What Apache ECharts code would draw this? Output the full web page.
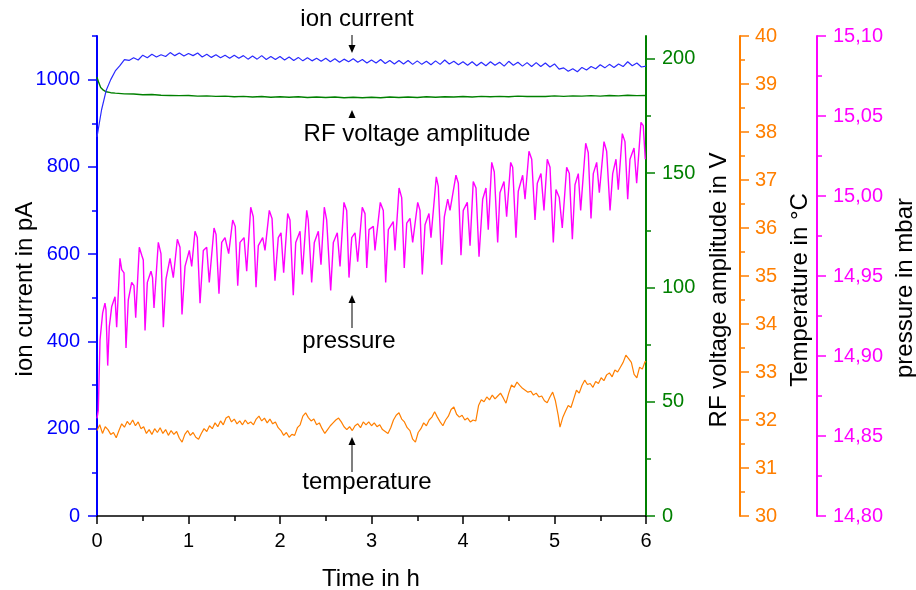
<!DOCTYPE html>
<html>
<head>
<meta charset="utf-8">
<script src="https://cdn.jsdelivr.net/npm/echarts@6/dist/echarts.min.js"></script>
<style>
  html, body { margin: 0; padding: 0; background: #fff; }
  #chart { width: 916px; height: 590px; }
</style>
</head>
<body>
<div id="chart"></div>
<script>
// time in h
const ionCurrent = [
  [0,869],[0.05,931],[0.1,975],[0.15,1000],[0.2,1020],[0.25,1032],[0.3,1046],[0.35,1044],[0.4,1050],[0.45,1045],
  [0.5,1056],[0.55,1050],[0.6,1058],[0.65,1052],[0.7,1057],[0.75,1053],[0.8,1062],[0.85,1055],[0.9,1061],[0.95,1054],
  [1.0,1060],[1.05,1055],[1.1,1061],[1.15,1052],[1.2,1058],[1.25,1051],[1.3,1057],[1.35,1050],[1.4,1056],[1.45,1049],
  [1.5,1056],[1.55,1049],[1.6,1055],[1.65,1047],[1.7,1054],[1.75,1047],[1.8,1055],[1.85,1046],[1.9,1053],[1.95,1046],
  [2.0,1053],[2.05,1045],[2.1,1052],[2.15,1044],[2.2,1051],[2.25,1043],[2.3,1050],[2.35,1043],[2.4,1049],[2.45,1042],
  [2.5,1049],[2.55,1041],[2.6,1048],[2.65,1040],[2.7,1047],[2.75,1041],[2.8,1048],[2.85,1040],[2.9,1046],[2.95,1038],
  [3.0,1045],[3.05,1038],[3.1,1046],[3.15,1037],[3.2,1044],[3.25,1036],[3.3,1044],[3.35,1036],[3.4,1044],[3.45,1035],
  [3.5,1043],[3.55,1035],[3.6,1042],[3.65,1034],[3.7,1043],[3.75,1035],[3.8,1045],[3.85,1036],[3.9,1042],[3.95,1034],
  [4.0,1041],[4.05,1033],[4.1,1041],[4.15,1032],[4.2,1040],[4.25,1032],[4.3,1041],[4.35,1033],[4.4,1040],[4.45,1031],
  [4.5,1042],[4.55,1033],[4.6,1040],[4.65,1031],[4.7,1039],[4.75,1030],[4.8,1039],[4.85,1030],[4.9,1038],[4.95,1029],
  [5.0,1036],[5.05,1024],[5.1,1027],[5.15,1019],[5.2,1025],[5.25,1018],[5.3,1028],[5.35,1022],[5.4,1030],[5.45,1025],
  [5.5,1034],[5.55,1027],[5.6,1035],[5.65,1028],[5.7,1036],[5.75,1030],[5.8,1041],[5.85,1032],[5.9,1038],[5.95,1029],[6.0,1031]
]

const rfVoltage = [
  [0,192],[0.02,189.5],[0.04,187.5],[0.07,186.3],[0.1,185.6],[0.15,185.2],[0.2,185.0],[0.3,184.7],[0.4,184.6],[0.5,184.3],
  [0.6,184.4],[0.7,184.1],[0.8,184.0],[0.9,183.9],[1.0,184.0],[1.1,183.7],[1.2,183.8],[1.3,183.6],[1.4,183.7],[1.5,183.4],
  [1.6,183.6],[1.7,183.3],[1.8,183.5],[1.9,183.2],[2.0,183.4],[2.1,183.2],[2.2,183.4],[2.3,183.1],[2.4,183.3],[2.5,183.1],
  [2.6,183.3],[2.7,183.0],[2.8,183.2],[2.9,183.0],[3.0,183.2],[3.1,183.0],[3.2,183.3],[3.3,183.1],[3.4,183.3],[3.5,183.1],
  [3.6,183.4],[3.7,183.2],[3.8,183.4],[3.9,183.3],[4.0,183.5],[4.1,183.3],[4.2,183.6],[4.3,183.4],[4.4,183.6],[4.5,183.4],
  [4.6,183.7],[4.7,183.5],[4.8,183.6],[4.9,183.5],[5.0,183.8],[5.1,183.6],[5.2,183.8],[5.3,183.7],[5.4,183.9],[5.5,183.7],
  [5.6,184.0],[5.7,183.8],[5.8,184.1],[5.9,183.9],[6.0,184.0]
]

const temperature = [
  [0,31.78],[0.03,31.9],[0.06,31.72],[0.09,31.86],[0.12,31.8],[0.15,31.7],[0.18,31.74],[0.21,31.63],[0.24,31.78],[0.27,31.92],
  [0.3,31.85],[0.33,31.97],[0.36,31.9],[0.39,32.0],[0.42,31.88],[0.45,31.96],[0.48,31.82],[0.51,31.86],[0.54,31.72],[0.57,31.8],
  [0.6,31.7],[0.63,31.82],[0.66,31.74],[0.69,31.84],[0.72,31.72],[0.75,31.8],[0.78,31.68],[0.81,31.78],[0.84,31.7],[0.87,31.76],
  [0.9,31.62],[0.93,31.54],[0.96,31.7],[0.99,31.78],[1.02,31.68],[1.05,31.74],[1.08,31.64],[1.11,31.6],[1.14,31.72],[1.17,31.82],
  [1.2,31.76],[1.23,31.88],[1.26,31.82],[1.29,31.94],[1.32,31.86],[1.35,31.98],[1.38,31.9],[1.41,32.04],[1.44,32.08],[1.47,31.96],
  [1.5,32.02],[1.53,31.92],[1.56,31.98],[1.59,31.9],[1.62,32.0],[1.65,31.92],[1.68,31.96],[1.71,31.9],[1.74,32.02],[1.77,32.08],
  [1.8,31.98],[1.83,32.04],[1.86,31.94],[1.89,32.02],[1.92,31.92],[1.95,31.96],[1.98,31.84],[2.01,31.78],[2.04,31.68],[2.07,31.74],
  [2.1,31.64],[2.13,31.7],[2.16,31.68],[2.19,31.84],[2.22,31.9],[2.25,32.08],[2.28,32.15],[2.31,32.05],[2.34,31.98],[2.37,32.02],
  [2.4,31.9],[2.43,31.94],[2.46,31.82],[2.49,31.72],[2.52,31.8],[2.55,31.88],[2.58,31.94],[2.61,32.0],[2.64,32.04],[2.67,31.96],
  [2.7,31.86],[2.73,31.8],[2.76,31.86],[2.79,31.78],[2.82,31.88],[2.85,31.92],[2.88,31.84],[2.91,31.96],[2.94,31.9],[2.97,31.96],
  [3.0,31.88],[3.03,31.94],[3.06,31.86],[3.09,31.9],[3.12,31.8],[3.15,31.76],[3.18,31.72],[3.21,31.84],[3.24,32.0],[3.27,32.1],
  [3.3,32.15],[3.33,32.02],[3.36,31.96],[3.39,31.84],[3.42,31.78],[3.45,31.6],[3.48,31.54],[3.51,31.74],[3.54,31.82],[3.57,31.94],
  [3.6,31.88],[3.63,32.0],[3.66,32.06],[3.69,32.17],[3.72,32.06],[3.75,31.96],[3.78,31.88],[3.81,32.0],[3.84,32.08],[3.87,32.22],
  [3.9,32.27],[3.93,32.12],[3.96,32.06],[3.99,32.1],[4.02,32.0],[4.05,32.04],[4.08,31.96],[4.11,32.0],[4.14,31.98],[4.17,32.3],
  [4.2,32.42],[4.23,32.38],[4.26,32.48],[4.29,32.42],[4.32,32.52],[4.35,32.44],[4.38,32.5],[4.41,32.56],[4.44,32.46],[4.47,32.35],
  [4.5,32.56],[4.53,32.73],[4.56,32.68],[4.59,32.79],[4.62,32.72],[4.65,32.66],[4.68,32.62],[4.71,32.58],[4.74,32.6],[4.77,32.52],
  [4.8,32.56],[4.83,32.48],[4.86,32.5],[4.89,32.4],[4.92,32.36],[4.95,32.48],[4.98,32.58],[5.01,32.4],[5.04,32.1],[5.06,31.85],
  [5.09,32.05],[5.12,32.18],[5.15,32.3],[5.18,32.26],[5.21,32.44],[5.24,32.62],[5.27,32.56],[5.3,32.72],[5.33,32.83],[5.36,32.74],
  [5.39,32.76],[5.42,32.68],[5.45,32.8],[5.48,32.76],[5.51,32.88],[5.54,32.82],[5.57,32.94],[5.6,32.98],[5.63,32.9],[5.66,33.04],
  [5.69,33.0],[5.72,33.1],[5.75,33.2],[5.78,33.35],[5.81,33.28],[5.84,33.2],[5.87,32.95],[5.9,32.88],[5.93,33.1],[5.96,33.06],
  [5.99,33.22],[6.0,33.21]
]

const pressure = [
  [0,14.861],[0.014,14.866],[0.033,14.910],[0.062,14.927],[0.087,14.933],[0.098,14.929],[0.117,14.894],[0.134,14.918],[0.161,14.931],[0.197,14.937],
  [0.215,14.918],[0.251,14.961],[0.270,14.954],[0.295,14.952],[0.317,14.905],[0.342,14.935],[0.379,14.946],[0.404,14.944],[0.423,14.924],[0.462,14.968],
  [0.489,14.963],[0.506,14.960],[0.525,14.916],[0.550,14.946],[0.590,14.953],[0.607,14.949],[0.623,14.930],[0.670,14.971],[0.699,14.964],[0.725,14.918],
  [0.754,14.948],[0.798,14.961],[0.834,14.949],[0.878,14.973],[0.907,14.968],[0.929,14.926],[0.962,14.956],[1.009,14.966],[1.035,14.956],[1.071,14.978],
  [1.096,14.974],[1.126,14.933],[1.162,14.966],[1.199,14.968],[1.227,14.946],[1.279,14.980],[1.301,14.976],[1.333,14.939],[1.363,14.971],[1.399,14.974],
  [1.439,14.964],[1.483,14.985],[1.511,14.981],[1.538,14.944],[1.563,14.971],[1.607,14.974],[1.636,14.953],[1.680,14.993],[1.708,14.987],[1.738,14.943],
  [1.763,14.969],[1.811,14.974],[1.836,14.966],[1.883,14.991],[1.913,14.986],[1.945,14.947],[1.981,14.974],[2.011,14.977],[2.040,14.952],[2.084,14.989],
  [2.109,14.985],[2.145,14.938],[2.172,14.971],[2.219,14.978],[2.244,14.951],[2.292,14.991],[2.309,14.985],[2.346,14.946],[2.375,14.971],[2.419,14.978],
  [2.448,14.957],[2.484,14.993],[2.510,14.985],[2.554,14.941],[2.583,14.971],[2.626,14.977],[2.656,14.956],[2.699,14.996],[2.729,14.991],[2.754,14.949],
  [2.784,14.974],[2.820,14.977],[2.849,14.959],[2.899,14.993],[2.929,14.989],[2.948,14.955],[2.973,14.979],[3.020,14.981],[3.038,14.966],[3.096,14.996],
  [3.129,14.991],[3.155,14.946],[3.184,14.979],[3.238,14.984],[3.257,14.966],[3.301,15.005],[3.330,14.999],[3.358,14.955],[3.385,14.983],[3.421,14.986],
  [3.450,14.971],[3.505,14.996],[3.530,14.991],[3.555,14.951],[3.585,14.982],[3.628,14.989],[3.650,14.974],[3.708,15.012],[3.730,15.006],[3.767,14.957],
  [3.796,14.987],[3.833,14.998],[3.858,14.991],[3.923,15.013],[3.949,15.008],[3.978,14.963],[4.003,14.991],[4.047,14.996],[4.077,14.969],[4.112,15.009],
  [4.142,15.005],[4.175,14.962],[4.215,14.998],[4.251,15.005],[4.276,14.979],[4.314,15.021],[4.342,15.015],[4.379,14.971],[4.404,15.002],[4.448,15.009],
  [4.477,14.987],[4.521,15.021],[4.543,15.018],[4.579,14.974],[4.604,15.003],[4.652,15.013],[4.678,14.998],[4.721,15.028],[4.751,15.023],[4.787,14.985],
  [4.812,15.008],[4.852,15.014],[4.885,14.991],[4.921,15.023],[4.951,15.018],[4.987,14.971],[5.016,15.004],[5.052,14.999],[5.085,14.980],[5.133,15.018],
  [5.162,15.014],[5.195,14.973],[5.224,15.007],[5.260,15.014],[5.286,14.991],[5.341,15.033],[5.369,15.027],[5.399,14.986],[5.424,15.014],[5.461,15.021],
  [5.490,15.002],[5.541,15.034],[5.570,15.028],[5.607,14.991],[5.636,15.014],[5.672,15.023],[5.697,15.004],[5.741,15.039],[5.770,15.034],[5.800,14.998],
  [5.825,15.023],[5.869,15.030],[5.898,15.008],[5.945,15.046],[5.970,15.044],[5.992,15.023]
]

const ionMajorTicks = [0, 200, 400, 600, 800, 1000]
const ionMinorTicks = [100, 300, 500, 700, 900, 1100]
const rfMajorTicks = [0, 50, 100, 150, 200]
const rfMinorTicks = [25, 75, 125, 175]

const FONT = '"Liberation Sans", Arial, sans-serif'
const BLUE = '#0000ff'
const GREEN = '#008000'
const ORANGE = '#ff7f00'
const MAGENTA = '#ff00ff'

const chart = echarts.init(document.getElementById('chart'), null, { renderer: 'canvas' })

const titleText = (text, x, y, rotation) => ({
  type: 'text', x, y, rotation: rotation || 0, silent: true,
  style: { text, fill: '#000', font: '24px ' + FONT, align: 'center', verticalAlign: 'middle', textAlign: 'center', textVerticalAlign: 'middle' },
})
const arrowHead = (x, y, down) => ({
  type: 'polygon', silent: true,
  shape: { points: down ? [[x - 3.5, y - 8], [x + 3.5, y - 8], [x, y]] : [[x - 3.5, y + 8], [x + 3.5, y + 8], [x, y]] },
  style: { fill: '#000' },
})
const stem = (x, y1, y2) => ({
  type: 'line', silent: true,
  shape: { x1: x, y1, x2: x, y2 },
  style: { stroke: '#555', lineWidth: 1.5 },
})

const tickLabel = (color, margin) => ({ color, fontSize: 20, fontFamily: FONT, margin, formatter: (v) => String(v) })

chart.setOption({
  animation: false,
  backgroundColor: '#fff',
  textStyle: { fontFamily: FONT },
  grid: { left: 97, right: 270, top: 36, bottom: 74 },
  xAxis: {
    type: 'value', min: 0, max: 6, interval: 1,
    axisLine: { lineStyle: { color: '#000', width: 1.5 } },
    axisTick: { length: 8, lineStyle: { color: '#000', width: 1.5 } },
    minorTick: { show: true, splitNumber: 2, length: 5, lineStyle: { color: '#000', width: 1.5 } },
    axisLabel: { color: '#000', fontSize: 20, fontFamily: FONT, margin: 15 },
    splitLine: { show: false },
  },
  yAxis: [
    {
      type: 'value', position: 'left', min: 0, max: 1100,
      axisLine: { show: true, lineStyle: { color: BLUE, width: 2 } },
      axisTick: { show: true, length: 9, customValues: ionMajorTicks, lineStyle: { color: BLUE, width: 1.5 } },
      axisLabel: { ...tickLabel(BLUE, 17), customValues: ionMajorTicks },
      splitLine: { show: false },
    },
    {
      type: 'value', position: 'left', min: 0, max: 1100,
      axisLine: { show: false },
      axisTick: { show: true, length: 5, customValues: ionMinorTicks, lineStyle: { color: BLUE, width: 1.5 } },
      axisLabel: { show: false },
      splitLine: { show: false },
    },
    {
      type: 'value', position: 'right', min: 0, max: 210,
      axisLine: { show: true, lineStyle: { color: GREEN, width: 2 } },
      axisTick: { show: true, length: 9, customValues: rfMajorTicks, lineStyle: { color: GREEN, width: 1.5 } },
      axisLabel: { ...tickLabel(GREEN, 16), customValues: rfMajorTicks },
      splitLine: { show: false },
    },
    {
      type: 'value', position: 'right', min: 0, max: 210,
      axisLine: { show: false },
      axisTick: { show: true, length: 5, customValues: rfMinorTicks, lineStyle: { color: GREEN, width: 1.5 } },
      axisLabel: { show: false },
      splitLine: { show: false },
    },
    {
      type: 'value', position: 'right', offset: 94, min: 30, max: 40, interval: 1,
      axisLine: { show: true, lineStyle: { color: ORANGE, width: 2 } },
      axisTick: { show: true, length: 9, lineStyle: { color: ORANGE, width: 1.5 } },
      minorTick: { show: true, splitNumber: 2, length: 5, lineStyle: { color: ORANGE, width: 1.5 } },
      axisLabel: tickLabel(ORANGE, 15),
      splitLine: { show: false },
    },
    {
      type: 'value', position: 'right', offset: 171, min: 14.8, max: 15.1, interval: 0.05,
      axisLine: { show: true, lineStyle: { color: MAGENTA, width: 2 } },
      axisTick: { show: true, length: 9, lineStyle: { color: MAGENTA, width: 1.5 } },
      minorTick: { show: true, splitNumber: 2, length: 5, lineStyle: { color: MAGENTA, width: 1.5 } },
      axisLabel: { ...tickLabel(MAGENTA, 16), formatter: (v) => v.toFixed(2).replace('.', ',') },
      splitLine: { show: false },
    },
  ],
  series: [
    { name: 'temperature', type: 'line', yAxisIndex: 4, data: temperature, showSymbol: false, lineStyle: { color: ORANGE, width: 1.2 } },
    { name: 'pressure', type: 'line', yAxisIndex: 5, data: pressure, showSymbol: false, lineStyle: { color: MAGENTA, width: 1.4 } },
    { name: 'RF voltage amplitude', type: 'line', yAxisIndex: 2, data: rfVoltage, showSymbol: false, lineStyle: { color: GREEN, width: 1.4 } },
    { name: 'ion current', type: 'line', yAxisIndex: 0, data: ionCurrent, showSymbol: false, lineStyle: { color: '#2a2aff', width: 1.2 } },
  ],
  graphic: [
    // axis titles
    titleText('ion current in pA', 25, 289, Math.PI / 2),
    titleText('RF voltage amplitude in V', 719, 290, Math.PI / 2),
    titleText('Temperature in °C', 800, 290, Math.PI / 2),
    titleText('pressure in mbar', 905, 288, Math.PI / 2),
    titleText('Time in h', 371, 579),
    // curve annotations
    titleText('ion current', 357, 19),
    stem(352, 35, 46), arrowHead(352, 53, true),
    arrowHead(352, 110, false),
    titleText('RF voltage amplitude', 417, 134),
    stem(352, 302, 328), arrowHead(352, 295, false),
    titleText('pressure', 349, 341),
    stem(352, 444, 472), arrowHead(352, 437, false),
    titleText('temperature', 367, 482),
  ],
})
</script>
</body>
</html>
